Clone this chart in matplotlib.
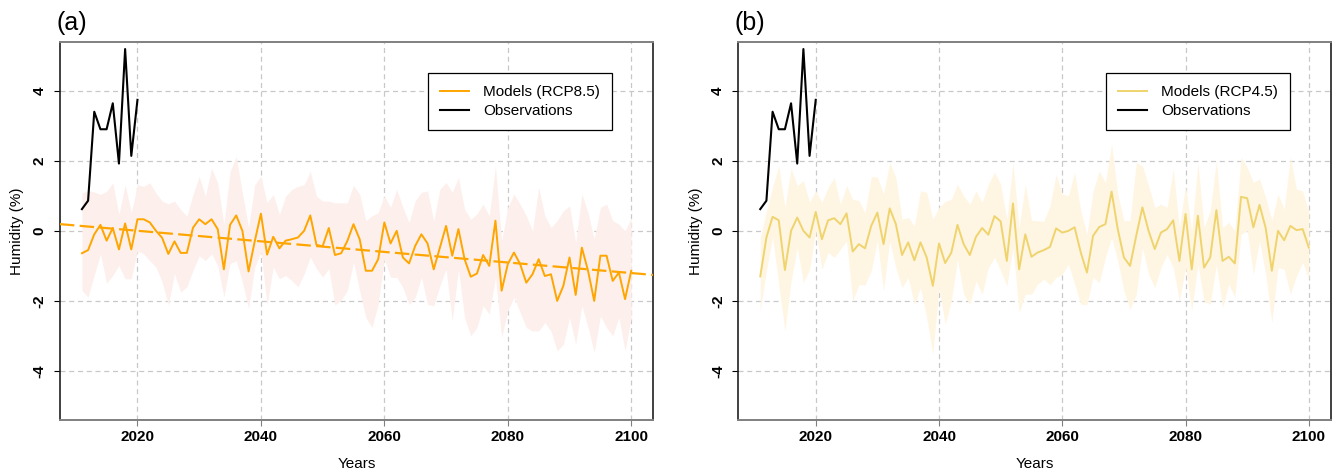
import numpy as np
import matplotlib.pyplot as plt

plt.rcParams['font.family'] = ['Liberation Sans', 'DejaVu Sans']

years = np.arange(2011, 2101)
obs_years = np.arange(2011, 2021)
obs = [0.62, 0.86, 3.4, 2.9, 2.9, 3.64, 1.92, 5.19, 2.14, 3.74]

# RCP8.5 model mean and spread (2011-2100)
rcp85_mean = [-0.64, -0.55, -0.1, 0.17, -0.28, 0.08, -0.53, 0.21, -0.53, 0.33,
              0.33, 0.24, 0.0, -0.2, -0.66, -0.3, -0.63, -0.63, 0.09, 0.33,
              0.19, 0.33, 0.05, -1.1, 0.17, 0.44, 0.0, -1.16, -0.3, 0.49,
              -0.68, -0.17, -0.5, -0.28, -0.24, -0.19, 0.0, 0.44, -0.4, -0.44,
              0.08, -0.69, -0.64, -0.29, 0.19, -0.24, -1.14, -1.14, -0.81, 0.24,
              -0.36, 0.0, -0.76, -0.93, -0.43, -0.1, -0.36, -1.1, -0.48, 0.14,
              -0.71, 0.05, -0.81, -1.31, -1.22, -0.69, -1.0, 0.29, -1.71, -0.95,
              -0.62, -0.95, -1.48, -1.24, -0.81, -1.29, -1.24, -2.0, -1.57, -0.76,
              -1.83, -0.48, -1.14, -2.0, -0.71, -0.71, -1.43, -1.19, -1.95, -1.14]
rcp85_upper = [1.08, 1.15, 1.11, 1.04, 1.13, 1.37, 0.47, 1.32, 0.52, 1.32,
               1.27, 1.37, 1.08, 0.85, 0.77, 0.85, 0.61, 0.42, 1.04, 1.56,
               0.99, 1.79, 1.37, 0.19, 1.7, 2.12, 1.08, 0.09, 1.32, 1.56,
               0.8, 1.04, 0.47, 0.99, 1.18, 1.27, 1.32, 1.7, 0.99, 0.85,
               0.85, 0.8, 0.8, 0.8, 1.3, 1.05, 0.29, 0.43, 0.52, 1.0,
               0.67, 1.19, 0.67, 0.24, 0.86, 1.1, 1.14, 0.29, 1.19, 1.38,
               1.1, 1.52, 0.62, 0.33, 0.48, 0.76, 0.43, 1.86, -0.29, 0.67,
               1.05, 0.76, 0.43, 0.0, 1.24, 0.43, 0.1, 0.29, 0.57, 0.71,
               -0.33, 1.05, 0.52, -0.24, 0.67, 0.76, 0.29, 0.19, 0.0, 0.38]
rcp85_lower = [-1.7, -1.89, -1.27, -0.66, -1.5, -1.27, -0.99, -1.37, -1.37, -0.57,
               -0.66, -0.85, -1.04, -1.46, -2.12, -1.23, -1.75, -1.6, -1.13, -0.71,
               -0.85, -0.66, -0.99, -1.89, -0.94, -0.85, -1.46, -2.22, -1.04, -0.61,
               -2.12, -1.04, -1.37, -1.27, -1.42, -1.6, -1.23, -0.75, -1.08, -1.32,
               -1.08, -2.12, -1.98, -1.7, -0.9, -1.71, -2.48, -2.76, -2.1, -0.81,
               -1.33, -1.33, -1.62, -2.1, -1.9, -1.33, -2.1, -2.14, -1.57, -1.1,
               -2.57, -1.1, -2.48, -3.0, -2.76, -2.14, -2.38, -1.33, -3.05, -2.29,
               -1.9, -2.33, -2.76, -2.86, -2.86, -2.62, -2.86, -3.43, -3.24, -2.48,
               -3.24, -2.14, -2.76, -3.48, -2.43, -2.76, -3.0, -2.48, -3.43, -2.48]

# RCP4.5 model mean and spread (2011-2100)
rcp45_mean = [-1.3, -0.19, 0.4, 0.3, -1.12, 0.0, 0.38, 0.0, -0.19, 0.54,
              -0.24, 0.3, 0.36, 0.19, 0.5, -0.59, -0.38, -0.5, 0.14, 0.52,
              -0.38, 0.64, 0.19, -0.69, -0.33, -0.84, -0.33, -0.76, -1.57, -0.36,
              -0.92, -0.62, 0.17, -0.38, -0.69, -0.17, 0.08, -0.11, 0.42, 0.27,
              -0.86, 0.78, -1.1, -0.1, -0.74, -0.62, -0.55, -0.46, 0.07, -0.05,
              0.0, 0.1, -0.62, -1.19, -0.14, 0.11, 0.19, 1.12, 0.05, -0.76,
              -1.0, -0.14, 0.67, 0.0, -0.52, -0.05, 0.05, 0.3, -0.86, 0.48,
              -1.1, 0.43, -1.05, -0.76, 0.59, -0.86, -0.74, -0.93, 0.97, 0.93,
              0.1, 0.74, 0.08, -1.14, 0.0, -0.27, 0.14, 0.02, 0.05, -0.48]
rcp45_upper = [-0.19, 0.57, 1.24, 1.86, 0.67, 1.79, 1.29, 1.43, 0.81, 1.14,
               0.81, 1.24, 1.52, 0.76, 1.29, 0.9, 0.86, 0.52, 1.54, 1.54,
               1.05, 1.95, 1.52, 0.33, 0.38, 0.14, 1.14, 1.1, 0.33, 0.67,
               0.84, 0.9, 1.33, 1.0, 0.76, 1.14, 0.81, 1.33, 1.67, 1.33,
               0.33, 1.95, 0.1, 1.33, 0.3, 0.29, 0.27, 0.71, 1.62, 1.05,
               1.0, 1.67, 0.57, -0.1, 1.14, 1.71, 1.38, 2.48, 1.05, 0.29,
               0.29, 1.95, 1.86, 1.29, 0.67, 0.76, 0.67, 1.76, 0.1, 1.29,
               0.0, 1.95, 0.1, 0.57, 2.0, 0.1, 0.24, 0.0, 2.1, 1.81,
               1.38, 1.48, 0.95, 0.29, 1.05, 0.62, 2.1, 1.19, 1.14, 0.52]
rcp45_lower = [-2.29, -1.14, -0.19, -1.52, -2.86, -1.43, -0.48, -1.48, -1.1, 0.0,
               -1.1, -0.62, -0.76, -0.52, -0.29, -2.0, -1.54, -1.54, -1.14, -0.29,
               -1.71, -0.29, -1.05, -1.62, -1.33, -2.1, -1.62, -2.48, -3.52, -1.62,
               -2.67, -2.0, -0.81, -1.81, -2.1, -1.43, -1.81, -1.05, -0.76, -1.14,
               -1.57, -0.48, -2.33, -1.81, -1.81, -1.52, -1.38, -1.54, -1.33, -1.24,
               -0.95, -1.52, -2.1, -2.1, -1.33, -1.48, -0.76, -0.19, -0.86, -1.71,
               -2.24, -1.81, -0.48, -1.24, -1.62, -1.05, -0.67, -1.05, -2.0, -1.05,
               -2.29, -0.95, -2.0, -2.1, -0.95, -2.19, -1.52, -1.9, -0.1, 0.0,
               -1.24, -0.29, -1.24, -2.62, -1.05, -1.1, -1.81, -1.29, -0.9, -1.38]

xticks = [2020, 2040, 2060, 2080, 2100]
yticks = [-4, -2, 0, 2, 4]


def draw_panel(ax, mean, upper, lower, line_color, band_color, label, trend=False):
    ax.fill_between(years, lower, upper, color=band_color, lw=0, zorder=1)
    ax.plot(years, mean, color=line_color, lw=1.4, zorder=3, label=label)
    ax.plot(obs_years, obs, color='black', lw=1.5, zorder=4, label='Observations')
    ax.set_xlim(2007.44, 2103.56)
    ax.set_ylim(-5.4, 5.4)
    if trend:
        # linear trend of the model mean, drawn across the whole panel
        k, b = np.polyfit(years, mean, 1)
        xs = np.array(ax.get_xlim())
        ax.plot(xs, k * xs + b, color=line_color, lw=1.6, dashes=(6.5, 2.4), zorder=3)
        ax.set_xlim(2007.44, 2103.56)

    ax.set_xticks(xticks)
    ax.set_yticks(yticks)
    ax.set_xticklabels([str(t) for t in xticks], fontweight='bold', fontsize=11)
    ax.set_yticklabels([str(t) for t in yticks], fontweight='bold', fontsize=11,
                       rotation=90, va='center')
    ax.grid(True, color='#c8c8c8', ls=(0, (4, 3)), lw=0.9, zorder=0)
    ax.set_axisbelow(True)
    ax.tick_params(axis='x', length=4.5, color='#808080', pad=3)
    ax.tick_params(axis='y', length=4.5, color='black', pad=5)
    for side in ['top', 'bottom']:
        ax.spines[side].set_color('#808080')
        ax.spines[side].set_linewidth(1.4)
    for side in ['left', 'right']:
        ax.spines[side].set_color('#202020')
        ax.spines[side].set_linewidth(1.2)
    ax.set_xlabel('Years', fontsize=11, labelpad=9)
    ax.set_ylabel('Humidity (%)', fontsize=11, labelpad=6)
    leg = ax.legend(loc='upper right', bbox_to_anchor=(0.931, 0.918), borderaxespad=0,
                    fontsize=11, fancybox=False, edgecolor='black', framealpha=1,
                    handlelength=1.9, handletextpad=0.9, labelspacing=0.35, borderpad=0.8)
    leg.get_frame().set_linewidth(0.9)


fig = plt.figure(figsize=(13.38, 4.72), dpi=100)
ax1 = fig.add_axes([0.0448, 0.1102, 0.4434, 0.8015])
ax2 = fig.add_axes([0.5518, 0.1102, 0.4428, 0.8015])

draw_panel(ax1, rcp85_mean, rcp85_upper, rcp85_lower, '#ffa500', '#fdf0ec',
           'Models (RCP8.5)', trend=True)
draw_panel(ax2, rcp45_mean, rcp45_upper, rcp45_lower, '#efd46e', '#fff5e3',
           'Models (RCP4.5)')

fig.text(56 / 1338, 1 - 23 / 472, '(a)', fontsize=18, ha='left', va='center')
fig.text(735 / 1338, 1 - 23 / 472, '(b)', fontsize=18, ha='left', va='center')

fig.savefig('out.png', dpi=100)
